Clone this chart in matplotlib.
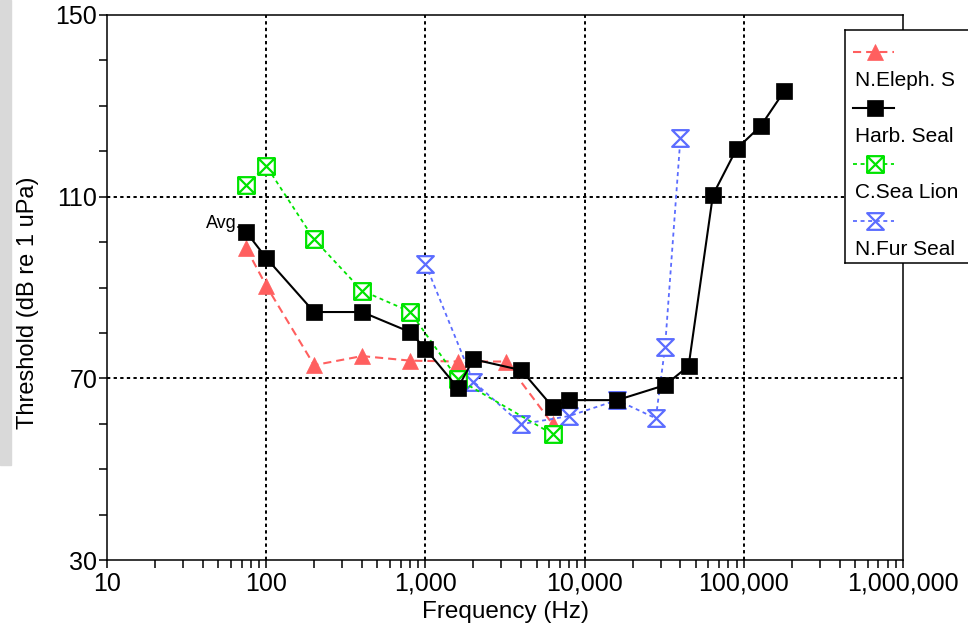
#!/usr/bin/env python3
"""
Pinniped underwater hearing thresholds (audiogram) on a log frequency axis.
"""

import matplotlib
matplotlib.use("Agg")
import matplotlib.pyplot as plt
from matplotlib.path import Path
from matplotlib.patches import Rectangle

# =============================================================================
# DATA
# =============================================================================

SERIES_NAMES = ["N.Eleph. S", "Harb. Seal", "C.Sea Lion", "N.Fur Seal"]

eleph_freq = [75, 100, 200, 400, 800, 1600, 3200, 6300]
eleph_db = [98.6, 90.4, 72.9, 74.9, 73.9, 73.7, 73.7, 59.9]

harb_freq = [75, 100, 200, 400, 800, 1000, 1600, 2000, 4000, 6300, 8000,
             16000, 32000, 45000, 64000, 90000, 128000, 180000]
harb_db = [102.2, 96.5, 84.6, 84.6, 80.2, 76.5, 67.9, 74.2, 71.8, 63.7, 65.2,
           65.2, 68.5, 72.7, 110.4, 120.5, 125.6, 133.3]

lion_freq = [75, 100, 200, 400, 800, 1600, 6300]
lion_db = [112.6, 116.8, 100.6, 89.3, 84.7, 69.8, 57.7]

fur_freq = [1000, 2000, 4000, 8000, 16000, 28000, 32000, 40000]
fur_db = [95.2, 69.3, 59.9, 61.7, 65.2, 61.2, 76.8, 123.0]

X_TICKS = [10, 100, 1000, 10000, 100000, 1000000]
X_TICK_LABELS = ["10", "100", "1,000", "10,000", "100,000", "1,000,000"]
Y_TICKS = [30, 70, 110, 150]

# =============================================================================
# STYLE
# =============================================================================

plt.rcParams["font.family"] = ["Liberation Sans", "DejaVu Sans"]

RED = "#ff5f5f"
GREEN = "#00e400"
BLUE = "#5b6cff"

# open square with an X inside
BOX_X = Path(
    [(-1, -1), (1, -1), (1, 1), (-1, 1), (-1, -1),
     (-1, -1), (1, 1), (-1, 1), (1, -1)],
    [Path.MOVETO, Path.LINETO, Path.LINETO, Path.LINETO, Path.CLOSEPOLY,
     Path.MOVETO, Path.LINETO, Path.MOVETO, Path.LINETO],
)
# hourglass
HOURGLASS = Path(
    [(-1, 1), (1, 1), (-1, -1), (1, -1), (-1, 1)],
    [Path.MOVETO, Path.LINETO, Path.LINETO, Path.LINETO, Path.CLOSEPOLY],
)

STYLES = [
    dict(color=RED, ls=(0, (3.9, 2.4)), lw=1.5, marker="^", ms=12,
         mfc=RED, mec=RED, mew=0.5),
    dict(color="black", ls="-", lw=1.5, marker="s", ms=11,
         mfc="black", mec="black", mew=0.5),
    dict(color=GREEN, ls=(0, (2.2, 2.0)), lw=1.3, marker=BOX_X, ms=12,
         mfc="white", mec=GREEN, mew=1.6),
    dict(color=BLUE, ls=(0, (2.2, 2.0)), lw=1.3, marker=HOURGLASS, ms=12,
         mfc="white", mec=BLUE, mew=1.6),
]


def main():
    W, H = 968, 630
    fig = plt.figure(figsize=(W / 100, H / 100), dpi=100)

    # gray strip on the left edge
    fig.patches.append(Rectangle((0, 1 - 465 / H), 11 / W, 465 / H,
                                 transform=fig.transFigure,
                                 color="#d9d9d9", zorder=0))

    ax = fig.add_axes([107 / W, 1 - 560 / H, 796 / W, 545 / H])
    ax.set_xscale("log")
    ax.set_xlim(10, 1e6)
    ax.set_ylim(30, 150)

    # dotted grid
    for xv in X_TICKS[1:-1]:
        ax.axvline(xv, color="black", lw=1.4, ls=(0, (1.7, 1.7)), zorder=1)
    for yv in Y_TICKS[1:-1]:
        ax.axhline(yv, color="black", lw=1.4, ls=(0, (1.7, 1.7)), zorder=1)

    data = [(eleph_freq, eleph_db), (harb_freq, harb_db),
            (lion_freq, lion_db), (fur_freq, fur_db)]
    order = [0, 3, 2, 1]
    for i in order:
        fx, fy = data[i]
        ax.plot(fx, fy, zorder=3 + (i == 1), **STYLES[i])

    ax.text(70, 103.2, "Avg.", ha="right", va="baseline", fontsize=13,
            zorder=2)

    # ticks
    ax.set_xticks(X_TICKS)
    ax.set_xticklabels(X_TICK_LABELS)
    ax.set_xticks([m * 10 ** e for e in range(1, 6) for m in range(2, 10)],
                  minor=True)
    ax.set_xticklabels([], minor=True)
    ax.set_yticks(Y_TICKS)
    ax.set_yticks(range(30, 151, 10), minor=True)
    ax.tick_params(which="both", direction="out", length=5.5, width=1.1,
                   labelsize=18)
    ax.tick_params(axis="x", pad=3)
    ax.tick_params(axis="y", pad=1.5)
    for s in ax.spines.values():
        s.set_linewidth(1.1)

    ax.set_xlabel("Frequency (Hz)", fontsize=17.5, labelpad=4)
    fig.text(28 / W, 1 - 303 / H, "Threshold (dB re 1 uPa)", rotation=90,
             ha="center", va="center", fontsize=17)

    # legend box, drawn by hand (handle row above each label)
    lg = fig.add_axes([845 / W, 1 - 263 / H, 140 / W, 233 / H])
    lg.set_xlim(0, 140)
    lg.set_ylim(233, 0)
    lg.set_xticks([])
    lg.set_yticks([])
    for s in lg.spines.values():
        s.set_linewidth(1.1)
    handle_y = [22.3, 78.3, 134, 190.7]
    label_y = [50, 106, 162.7, 219]
    for i, name in enumerate(SERIES_NAMES):
        st = dict(STYLES[i])
        marker = st.pop("marker")
        ms = st.pop("ms")
        mfc = st.pop("mfc")
        mec = st.pop("mec")
        mew = st.pop("mew")
        lg.plot([8, 49], [handle_y[i], handle_y[i]], **st)
        lg.plot([30], [handle_y[i]], ls="none", marker=marker, ms=ms,
                mfc=mfc, mec=mec, mew=mew)
        lg.text(10, label_y[i], name, fontsize=15, ha="left", va="center")

    fig.savefig("out.png", dpi=100)


if __name__ == "__main__":
    main()
